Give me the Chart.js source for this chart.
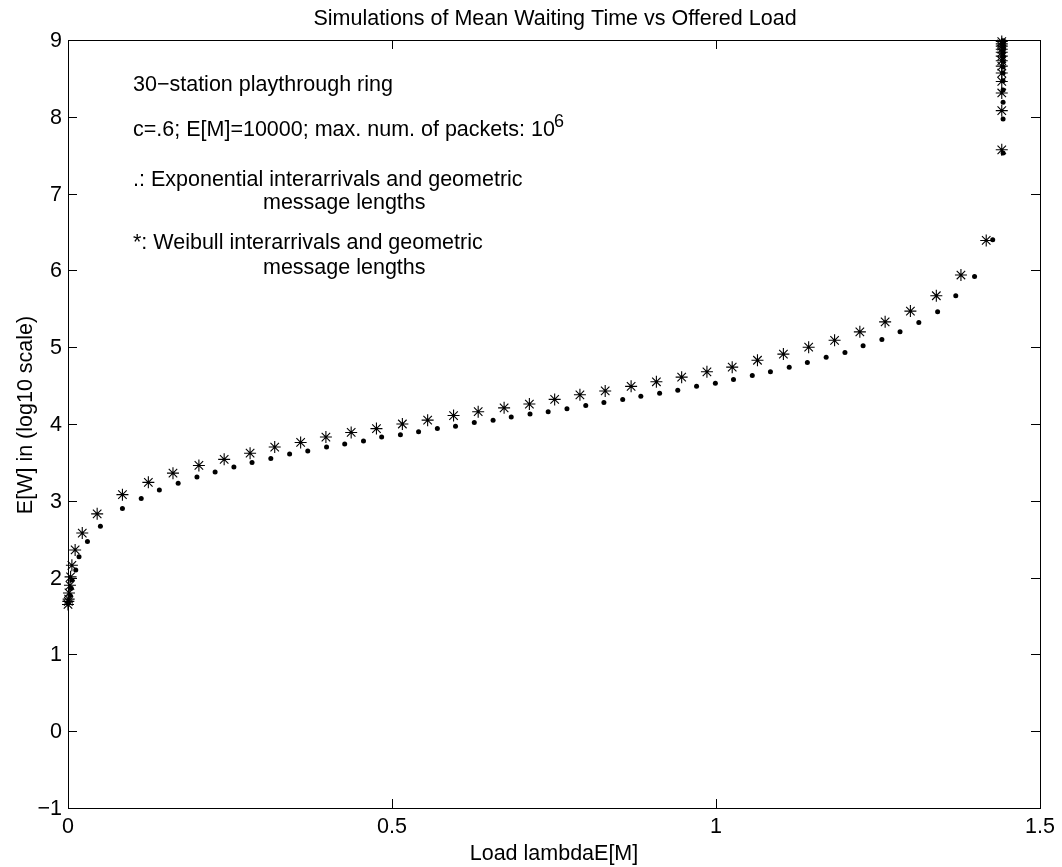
<!DOCTYPE html>
<html>
<head>
<meta charset="utf-8">
<script src="https://cdn.jsdelivr.net/npm/chart.js@4/dist/chart.umd.min.js"></script>
<style>
  html, body { margin: 0; padding: 0; background: #fff; }
  #wrap { width: 1062px; height: 867px; }
</style>
</head>
<body>
<div id="wrap"><canvas id="chart" width="1062" height="867"></canvas></div>
<script>
// exponential interarrivals (dots): load vs log10 E[W]
const expLoad = [0.000, 0.003, 0.005, 0.006, 0.012, 0.017, 0.030, 0.050, 0.084, 0.113,
  0.141, 0.170, 0.199, 0.227, 0.256, 0.284, 0.313, 0.342, 0.370, 0.399,
  0.427, 0.456, 0.484, 0.513, 0.541, 0.570, 0.598, 0.627, 0.656, 0.684,
  0.713, 0.741, 0.770, 0.799, 0.827, 0.856, 0.884, 0.913, 0.941, 0.970,
  0.999, 1.027, 1.056, 1.084, 1.113, 1.141, 1.170, 1.199, 1.227, 1.256,
  1.284, 1.313, 1.342, 1.370, 1.399, 1.427,
  1.443, 1.443, 1.443, 1.443, 1.443, 1.443, 1.443, 1.443, 1.443, 1.443,
  1.443, 1.443, 1.443, 1.443, 1.443];
const expWait = [1.67, 1.77, 1.86, 1.97, 2.10, 2.27, 2.47, 2.67, 2.90, 3.03,
  3.14, 3.23, 3.31, 3.375, 3.44, 3.50, 3.55, 3.61, 3.65, 3.70,
  3.74, 3.78, 3.83, 3.86, 3.90, 3.94, 3.97, 4.02, 4.05, 4.09,
  4.13, 4.16, 4.20, 4.24, 4.28, 4.32, 4.36, 4.40, 4.44, 4.49,
  4.53, 4.58, 4.63, 4.68, 4.74, 4.80, 4.87, 4.93, 5.02, 5.10,
  5.20, 5.32, 5.46, 5.67, 5.92, 6.40,
  7.53, 7.97, 8.19, 8.35, 8.47, 8.57, 8.65, 8.72, 8.78, 8.83,
  8.87, 8.91, 8.94, 8.97, 8.99];

// weibull interarrivals (stars)
const weibLoad = [0.000, 0.0005, 0.001, 0.0015, 0.003, 0.004, 0.006, 0.011, 0.022, 0.045,
  0.084, 0.124, 0.162, 0.202, 0.241, 0.281, 0.319, 0.359, 0.398, 0.437,
  0.476, 0.516, 0.555, 0.595, 0.633, 0.673, 0.712, 0.751, 0.790, 0.829,
  0.869, 0.908, 0.947, 0.986, 1.025, 1.064, 1.104, 1.143, 1.183, 1.222,
  1.261, 1.300, 1.340, 1.378, 1.417,
  1.441, 1.441, 1.441, 1.441, 1.441, 1.441, 1.441, 1.441, 1.441, 1.441,
  1.441, 1.441, 1.441];
const weibWait = [1.65, 1.69, 1.72, 1.80, 1.90, 2.01, 2.16, 2.36, 2.58, 2.83,
  3.08, 3.24, 3.36, 3.46, 3.54, 3.62, 3.70, 3.76, 3.83, 3.89,
  3.94, 4.00, 4.05, 4.11, 4.16, 4.21, 4.26, 4.32, 4.38, 4.43,
  4.49, 4.55, 4.61, 4.68, 4.74, 4.83, 4.91, 5.00, 5.09, 5.20,
  5.33, 5.47, 5.67, 5.94, 6.39,
  7.57, 8.08, 8.31, 8.46, 8.57, 8.66, 8.73, 8.79, 8.84, 8.88,
  8.92, 8.95, 8.98];

const xTicks = [0, 0.5, 1, 1.5];
const yTicks = [-1, 0, 1, 2, 3, 4, 5, 6, 7, 8, 9];

const FONT = "'Liberation Sans', Arial, Helvetica, sans-serif";
const FS = 21.5;

// box with inward ticks on all four sides (matlab style)
const frame = {
  id: "frame",
  beforeDatasetsDraw(chart) {
    const { ctx, chartArea: a, scales } = chart;
    const tl = 9;
    ctx.save();
    ctx.strokeStyle = "#000";
    ctx.lineWidth = 1;
    ctx.strokeRect(a.left + 0.5, a.top + 0.5, a.right - a.left, a.bottom - a.top);
    ctx.beginPath();
    xTicks.forEach((v) => {
      const px = Math.round(scales.x.getPixelForValue(v)) + 0.5;
      ctx.moveTo(px, a.bottom); ctx.lineTo(px, a.bottom - tl);
      ctx.moveTo(px, a.top); ctx.lineTo(px, a.top + tl);
    });
    yTicks.forEach((v) => {
      const py = Math.round(scales.y.getPixelForValue(v)) + 0.5;
      ctx.moveTo(a.left, py); ctx.lineTo(a.left + tl, py);
      ctx.moveTo(a.right, py); ctx.lineTo(a.right - tl, py);
    });
    ctx.stroke();
    ctx.restore();
  },
};

// title, axis labels and the note inside the axes
const labels = {
  id: "labels",
  afterDraw(chart) {
    const ctx = chart.ctx;
    ctx.save();
    ctx.fillStyle = "#000";
    ctx.textBaseline = "alphabetic";
    ctx.font = FS + "px " + FONT;

    ctx.textAlign = "center";
    ctx.fillText("Simulations of Mean Waiting Time vs Offered Load", 555, 25);
    ctx.fillText("Load lambdaE[M]", 554, 860);

    ctx.save();
    ctx.translate(32, 415);
    ctx.rotate(-Math.PI / 2);
    ctx.fillText("E[W] in (log10 scale)", 0, 0);
    ctx.restore();

    ctx.textAlign = "left";
    ctx.fillText("30\u2212station playthrough ring", 133, 91);
    ctx.fillText("c=.6; E[M]=10000; max. num. of packets: 10", 133, 136);
    ctx.fillText(".: Exponential interarrivals and geometric", 133, 186);
    ctx.fillText("message lengths", 263, 209);
    ctx.fillText("*: Weibull interarrivals and geometric", 133, 249);
    ctx.fillText("message lengths", 263, 274);
    ctx.font = "18px " + FONT;
    ctx.fillText("6", 554, 127);
    ctx.restore();
  },
};

const tickFont = { family: FONT, size: FS };

new Chart(document.getElementById("chart"), {
  type: "scatter",
  data: {
    datasets: [
      {
        label: "exponential",
        data: expLoad.map((x, i) => ({ x: x, y: expWait[i] })),
        pointStyle: "circle",
        pointRadius: 2.5,
        pointBorderWidth: 0,
        pointBackgroundColor: "#000",
        clip: false,
      },
      {
        label: "weibull",
        data: weibLoad.map((x, i) => ({ x: x, y: weibWait[i] })),
        pointStyle: "star",
        pointRadius: 6,
        pointBorderWidth: 1.1,
        pointBorderColor: "#000",
        clip: false,
      },
    ],
  },
  options: {
    responsive: false,
    animation: false,
    events: [],
    layout: { padding: { top: 40, right: 22, left: 0, bottom: 0 } },
    plugins: {
      legend: { display: false },
      tooltip: { enabled: false },
    },
    scales: {
      x: {
        type: "linear",
        min: 0,
        max: 1.5,
        afterFit: (s) => { s.height = 59; },
        afterBuildTicks: (s) => { s.ticks = xTicks.map((v) => ({ value: v })); },
        grid: { display: false, drawTicks: false },
        border: { display: false },
        ticks: {
          color: "#000",
          font: tickFont,
          padding: 6,
          maxRotation: 0,
          callback: (v) => String(v),
        },
      },
      y: {
        type: "linear",
        min: -1,
        max: 9,
        afterFit: (s) => { s.width = 68; },
        afterBuildTicks: (s) => { s.ticks = yTicks.map((v) => ({ value: v })); },
        grid: { display: false, drawTicks: false },
        border: { display: false },
        ticks: {
          color: "#000",
          font: tickFont,
          padding: 6,
          labelOffset: 1,
          callback: (v) => (v < 0 ? "\u2212" + Math.abs(v) : String(v)), //matlab minus
        },
      },
    },
  },
  plugins: [frame, labels],
});
</script>
</body>
</html>
